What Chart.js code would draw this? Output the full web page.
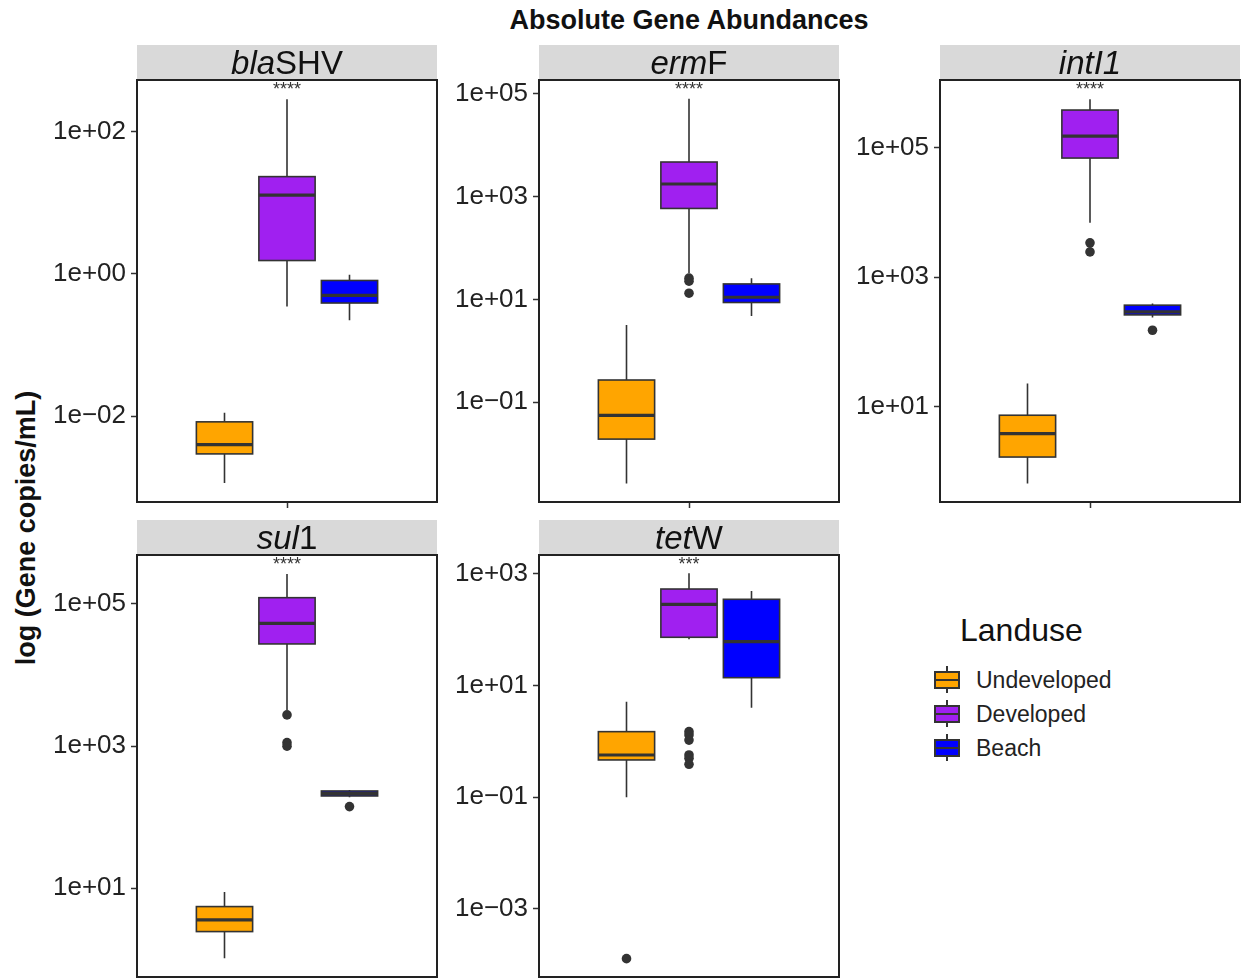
<!DOCTYPE html>
<html>
<head>
<meta charset="utf-8">
<title>Absolute Gene Abundances</title>
<script src="https://cdn.jsdelivr.net/npm/chart.js@4.4.1/dist/chart.umd.min.js"></script>
<style>
  html, body { margin: 0; padding: 0; background: #fff; }
  body { position: relative; width: 1241px; height: 978px; overflow: hidden;
         font-family: "Liberation Sans", Arial, Helvetica, sans-serif; color: #111; }
  canvas { position: absolute; }
  #titulo { position: absolute; left: 389px; top: 7px; width: 600px; text-align: center;
            font-size: 27px; font-weight: bold; line-height: 1; }
  #eixoY { position: absolute; left: 26px; top: 528px; font-size: 27px; font-weight: bold;
           line-height: 1; white-space: nowrap; transform: translate(-50%, -50%) rotate(-90deg); }
  #legenda { position: absolute; left: 930px; top: 614px; }
  #legenda .tit { position: absolute; left: 30px; top: 0; font-size: 32px; line-height: 1; white-space: nowrap; }
  .item { position: absolute; left: 0; height: 34px; width: 260px; }
  .item .bigode { position: absolute; left: 16px; top: 52px; width: 2px; height: 27px; background: #333; }
  .item .chave { position: absolute; left: 4px; top: 57px; width: 22px; height: 14px;
                 border: 2px solid #333; }
  .item .mediana { position: absolute; left: 0; top: 6px; width: 22px; height: 2px; background: #333; }
  .item .rot { position: absolute; left: 46px; top: 55px; font-size: 23px; line-height: 1; color: #222; white-space: nowrap; }
</style>
</head>
<body>
<div id="titulo">Absolute Gene Abundances</div>
<div id="eixoY">log (Gene copies/mL)</div>
<div id="legenda"><div class="tit">Landuse</div></div>

<script>
// Grupos de uso do solo e cores de preenchimento
var landuse = ['Undeveloped', 'Developed', 'Beach'];
var coresLanduse = ['#FFA500', '#A020F0', '#0000FF'];

// Estatísticas das caixas: [bigode inferior, Q1, mediana, Q3, bigode superior]
var blaSHVStats = [
    [0.00115, 0.00294, 0.00398, 0.0083, 0.0111],
    [0.348, 1.54, 12.8, 23.3, 285],
    [0.222, 0.389, 0.497, 0.807, 0.97]
];
var blaSHVOutliers = [[], [], []];
var blaSHVTicks = ['1e\u221202', '1e+00', '1e+02'];

var ermFStats = [
    [0.00261, 0.0191, 0.0553, 0.27, 3.18],
    [32.4, 589, 1760, 4720, 80000],
    [4.77, 8.7, 11, 20, 25.9]
];
var ermFOutliers = [[], [25.9, 22.6, 13.2], []];
var ermFTicks = ['1e\u221201', '1e+01', '1e+03', '1e+05'];

var intI1Stats = [
    [0.659, 1.69, 3.89, 7.45, 23],
    [6870, 68400, 149000, 376000, 550000],
    [239, 262, 292, 370, 393]
];
var intI1Outliers = [[], [3380, 2450], [152]];
var intI1Ticks = ['1e+01', '1e+03', '1e+05'];

var sul1Stats = [
    [1.04, 2.46, 3.6, 5.53, 8.9],
    [3230, 27400, 53500, 122600, 264000],
    [191, 199, 215, 234, 242]
];
var sul1Outliers = [[], [2750, 1120, 1000], [141]];
var sul1Ticks = ['1e+01', '1e+03', '1e+05'];

var tetWStats = [
    [0.1, 0.467, 0.573, 1.5, 5.16],
    [67.6, 73.5, 286, 538, 1030],
    [4.03, 13.9, 61.4, 352, 495]
];
var tetWOutliers = [[0.000129], [1.5, 1.31, 1.06, 0.573, 0.5, 0.39], []];
var tetWTicks = ['1e\u221203', '1e\u221201', '1e+01', '1e+03'];

// Rótulos de significância (Kruskal-Wallis)
var significancia = ['****', '****', '****', '****', '***'];

// Painéis (facetas): texto da faixa em itálico + parte normal
var paineis = [
    { strip: ['bla', 'SHV'], stats: blaSHVStats, outliers: blaSHVOutliers, ticks: blaSHVTicks,
      limites: [-3.208, 2.726], left: 137, top: 80 },
    { strip: ['erm', 'F'], stats: ermFStats, outliers: ermFOutliers, ticks: ermFTicks,
      limites: [-2.943, 5.27], left: 539, top: 80 },
    { strip: ['intI1', ''], stats: intI1Stats, outliers: intI1Outliers, ticks: intI1Ticks,
      limites: [-0.465, 6.038], left: 940, top: 80 },
    { strip: ['sul', '1'], stats: sul1Stats, outliers: sul1Outliers, ticks: sul1Ticks,
      limites: [-0.248, 5.689], left: 137, top: 555 },
    { strip: ['tet', 'W'], stats: tetWStats, outliers: tetWOutliers, ticks: tetWTicks,
      limites: [-4.218, 3.34], left: 539, top: 555 }
];

var MARGEM_ESQ = 130;   // espaço para os rótulos do eixo y
var TOPO = 37;          // faixa cinzenta acima do painel
var LARG = 300;
var ALT = 422;
var FONTE = '"Liberation Sans", Arial, Helvetica, sans-serif';

// posição de cada grupo no eixo x (dodge de 0.75 dividido por 3)
function posicaoGrupo(g) {
    return 0.75 + g * 0.25;
}

// Desenha caixas, bigodes e medianas a partir das escalas do gráfico
var pluginBoxplot = {
    id: 'boxplots',
    beforeDatasetsDraw: function(chart, args, opts) {
        var ctx = chart.ctx;
        var x = chart.scales.x, y = chart.scales.y;
        opts.stats.forEach(function(s, g) {
            var cx = posicaoGrupo(g);
            var xl = x.getPixelForValue(cx - 0.1125);
            var xr = x.getPixelForValue(cx + 0.1125);
            var xc = x.getPixelForValue(cx);
            var p = s.map(function(v) { return y.getPixelForValue(v); });
            ctx.save();
            ctx.strokeStyle = '#333333';
            ctx.lineWidth = 1.6;
            ctx.beginPath();
            ctx.moveTo(xc, p[4]); ctx.lineTo(xc, p[3]);
            ctx.moveTo(xc, p[1]); ctx.lineTo(xc, p[0]);
            ctx.stroke();
            ctx.fillStyle = opts.cores[g];
            ctx.fillRect(xl, p[3], xr - xl, p[1] - p[3]);
            ctx.strokeRect(xl, p[3], xr - xl, p[1] - p[3]);
            ctx.lineWidth = 3.2;
            ctx.beginPath();
            ctx.moveTo(xl, p[2]); ctx.lineTo(xr, p[2]);
            ctx.stroke();
            ctx.restore();
        });
    }
};

// Faixa do título da faceta, borda do painel e asteriscos
var pluginFaceta = {
    id: 'faceta',
    afterDraw: function(chart, args, opts) {
        var ctx = chart.ctx;
        var a = chart.chartArea;
        ctx.save();
        ctx.fillStyle = '#D9D9D9';
        ctx.fillRect(a.left, a.top - 35, a.right - a.left, 34);

        ctx.fillStyle = '#111';
        ctx.textBaseline = 'alphabetic';
        ctx.font = 'italic 33px ' + FONTE;
        var w1 = ctx.measureText(opts.strip[0]).width;
        ctx.font = '33px ' + FONTE;
        var w2 = ctx.measureText(opts.strip[1]).width;
        var x0 = (a.left + a.right) / 2 - (w1 + w2) / 2;
        ctx.font = 'italic 33px ' + FONTE;
        ctx.fillText(opts.strip[0], x0, a.top - 6);
        ctx.font = '33px ' + FONTE;
        ctx.fillText(opts.strip[1], x0 + w1, a.top - 6);

        ctx.strokeStyle = '#222';
        ctx.lineWidth = 2;
        ctx.strokeRect(a.left, a.top, a.right - a.left, a.bottom - a.top);

        ctx.font = '18px ' + FONTE;
        ctx.fillStyle = '#333';
        ctx.textAlign = 'center';
        ctx.fillText(opts.sig, chart.scales.x.getPixelForValue(1), a.top + 15);
        ctx.restore();
    }
};

paineis.forEach(function(painel, i) {
    var canvas = document.createElement('canvas');
    canvas.width = MARGEM_ESQ + LARG + 6;
    canvas.height = TOPO + ALT + 12;
    canvas.style.left = (painel.left - MARGEM_ESQ) + 'px';
    canvas.style.top = (painel.top - TOPO) + 'px';
    document.body.appendChild(canvas);

    var valoresTicks = painel.ticks.map(function(t) { return Number(t.replace('\u2212', '-')); });

    var pontos = [];
    painel.outliers.forEach(function(vals, g) {
        vals.forEach(function(v) { pontos.push({ x: posicaoGrupo(g), y: v }); });
    });

    new Chart(canvas.getContext('2d'), {
        type: 'scatter',
        data: {
            datasets: [{
                label: 'outliers',
                data: pontos,
                backgroundColor: '#333333',
                borderColor: '#333333',
                pointRadius: 4.8,
                pointBorderWidth: 0
            }]
        },
        options: {
            responsive: false,
            animation: false,
            devicePixelRatio: 1,
            layout: { padding: { top: TOPO, right: 6, left: 0, bottom: 0 } },
            plugins: {
                legend: { display: false },
                tooltip: { enabled: false },
                boxplots: { stats: painel.stats, cores: coresLanduse },
                faceta: { strip: painel.strip, sig: significancia[i] }
            },
            scales: {
                x: {
                    type: 'linear',
                    min: 0.4,
                    max: 1.6,
                    bounds: 'data',
                    afterBuildTicks: function(scale) { scale.ticks = [{ value: 1 }]; },
                    afterFit: function(scale) {
                        scale.height = 12;
                        scale.paddingLeft = 0;
                        scale.paddingRight = 0;
                    },
                    ticks: { callback: function() { return ''; } },
                    grid: { drawOnChartArea: false, tickLength: 6, tickColor: '#333', tickWidth: 1.5 },
                    border: { display: false }
                },
                y: {
                    type: 'logarithmic',
                    min: Math.pow(10, painel.limites[0]),
                    max: Math.pow(10, painel.limites[1]),
                    bounds: 'data',
                    afterBuildTicks: function(scale) {
                        scale.ticks = valoresTicks.map(function(v) { return { value: v }; });
                    },
                    afterFit: function(scale) {
                        scale.width = MARGEM_ESQ;
                        scale.paddingTop = 0;
                        scale.paddingBottom = 0;
                    },
                    ticks: {
                        autoSkip: false,
                        padding: 5,
                        color: '#222',
                        font: { family: FONTE, size: 26 },
                        callback: function(value, index) { return painel.ticks[index]; }
                    },
                    grid: { drawOnChartArea: false, tickLength: 6, tickColor: '#333', tickWidth: 1.5 },
                    border: { display: false }
                }
            }
        },
        plugins: [pluginBoxplot, pluginFaceta]
    });
});

// Legenda "Landuse"
var legenda = document.getElementById('legenda');
landuse.forEach(function(nome, g) {
    var item = document.createElement('div');
    item.className = 'item';
    item.style.top = (g * 34) + 'px';
    var bigode = document.createElement('div');
    bigode.className = 'bigode';
    var chave = document.createElement('div');
    chave.className = 'chave';
    chave.style.background = coresLanduse[g];
    var mediana = document.createElement('div');
    mediana.className = 'mediana';
    chave.appendChild(mediana);
    var rot = document.createElement('div');
    rot.className = 'rot';
    rot.textContent = nome;
    item.appendChild(bigode);
    item.appendChild(chave);
    item.appendChild(rot);
    legenda.appendChild(item);
});
</script>
</body>
</html>
